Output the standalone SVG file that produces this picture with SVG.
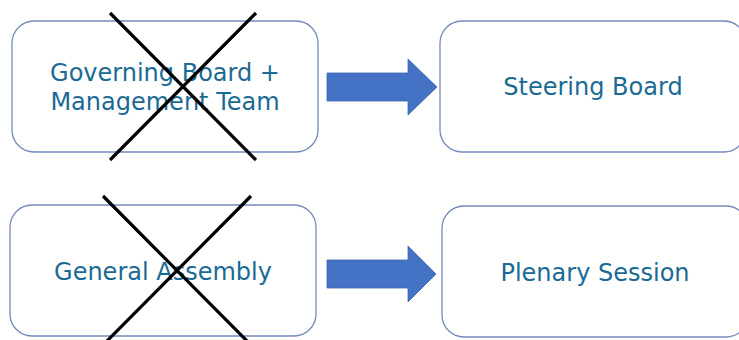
<svg xmlns="http://www.w3.org/2000/svg" width="739" height="340" viewBox="0 0 739 340">
<style>
.box{fill:#ffffff;stroke:#7489BD;stroke-width:1.3}
.lbl{font-family:"DejaVu Sans",Verdana,sans-serif;font-size:24px;fill:#1A6A94;text-anchor:middle}
.cross{stroke:#000000;stroke-width:3.2;stroke-linecap:butt}
.arrow{fill:#4472C4;stroke:#3F66B0;stroke-width:0.8}
</style>
<rect width="739" height="340" fill="#ffffff"/>
<g id="governing">
<rect class="box" x="12" y="21" width="306" height="131" rx="22"/>
<text class="lbl" x="165" y="81">Governing Board +</text>
<text class="lbl" x="165" y="110">Management Team</text>
<line class="cross" x1="110" y1="13" x2="256" y2="160"/>
<line class="cross" x1="256" y1="13" x2="110" y2="160"/>
</g>
<g id="steering">
<rect class="box" x="440" y="21" width="306" height="131" rx="22"/>
<text class="lbl" x="593" y="95">Steering Board</text>
</g>
<g id="general">
<rect class="box" x="10" y="205" width="306" height="131" rx="22"/>
<text class="lbl" x="163" y="280">General Assembly</text>
<line class="cross" x1="103" y1="196" x2="251" y2="345"/>
<line class="cross" x1="251" y1="196" x2="103" y2="345"/>
</g>
<g id="plenary">
<rect class="box" x="442" y="206" width="306" height="131" rx="22"/>
<text class="lbl" x="595" y="281">Plenary Session</text>
</g>
<g id="connectors">
<polygon class="arrow" points="327,73 408,73 408,59 437,87 408,115 408,101 327,101"/>
<polygon class="arrow" points="327,260 408,260 408,246 436,274 408,302 408,288 327,288"/>
</g>
</svg>
